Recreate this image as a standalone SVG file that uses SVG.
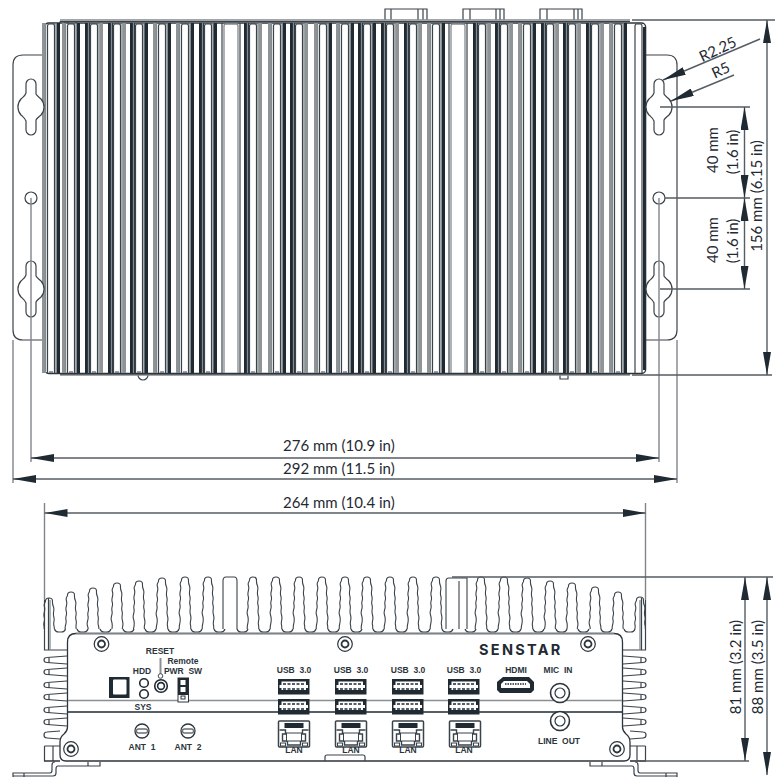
<svg xmlns="http://www.w3.org/2000/svg" width="778" height="777" viewBox="0 0 778 777">
<style>
.o{fill:none;stroke:#3a434a;stroke-width:1.2}
.g{fill:none;stroke:#858a8e;stroke-width:1.3}
.d{fill:#1f2a33}
.m{fill:#8f9497}
.e{fill:none;stroke:#80858a;stroke-width:1.4}
.l{fill:none;stroke:#555c62;stroke-width:1.4}
.t{font-family:"Lato","Liberation Sans",sans-serif;font-size:15px;fill:#1f2a33}
.s{font-family:"Liberation Sans",sans-serif;font-size:8.5px;font-weight:bold;fill:#2c353c;text-anchor:middle}
.p{fill:#fff;stroke:#1f2a33;stroke-width:1.6}
.fin{fill:#fff;stroke:#3a434a;stroke-width:1.1}
</style>
<defs>
<marker id="a" markerUnits="userSpaceOnUse" markerWidth="23" markerHeight="8" viewBox="0 0 23 8" refX="23" refY="4" orient="auto-start-reverse"><path d="M0,0L23,4L0,8z" fill="#1f2a33"/></marker>
<clipPath id="fc"><rect x="0" y="560" width="778" height="69"/></clipPath>
<g id="u"><path class="o" d="M-3.5,373V26Q-3.5,24 -1.5,24H1.500Q3.500,24 3.500,26V373M-2,372H2"/><path class="g" d="M-5.500,23V373M5,23V373"/></g>
<g id="L"><rect class="m" x="-9" y="23" width="3.500" height="350"/><rect class="d" x="5.500" y="23" width="3.500" height="350"/><use href="#u"/></g>
<g id="D"><rect class="d" x="-9" y="23" width="5" height="350"/><rect class="m" x="5.500" y="23" width="3.500" height="350"/><use href="#u"/></g>
<g id="B"><rect class="d" x="-9" y="23" width="5" height="350"/><rect class="d" x="5" y="23" width="4" height="350"/><use href="#u"/></g>
<g id="W"><path class="g" d="M-7,373V26Q-7,24 -5,24H5Q7,24 7,26V373"/><path class="o" d="M-9,23V373M9,23V373"/></g>
<path id="tf" class="fin" d="M-6,60C-4.500,56 -6.500,52 -5.500,48S-4,42 -5.500,38S-4,32 -5,28S-3.500,23 -4.800,19S-3.200,13 -4.500,9S-3.500,5 -3.500,3Q-3.500,0 0,0Q3.500,0 3.500,3S3.200,6 4.500,9S3.500,15 4.800,19S3.800,24 5,28S4,33 5.500,38S4.500,44 5.500,48S4.500,56 6,60"/>
<path id="v" class="o" d="M0,629Q1,632 4,632H7Q10,632 11,629"/>
<g id="sf"><path class="o" d="M67,-4L47,-2.500Q44,-2.500 44,0Q44,2.500 47,2.500L67,4M49,-2.500V2.500"/></g>
<g id="usb"><rect class="d" x="0" y="0" width="31.500" height="15.500"/><path d="M3.500,2.500H28V6H30V9H28V11H3.500V9H1.500V6H3.500z" fill="#fff"/><path d="M5,5H27M5,10H27" stroke="#1f2a33" stroke-width="1.400" stroke-dasharray="3 1.500"/></g>
<g id="lan"><rect x="0" y="0" width="31" height="26" rx="1" fill="#fff" stroke="#3a434a" stroke-width="1.500"/><rect class="d" x="6" y="2" width="19" height="5"/><path d="M1,9H7V13H4V20H9V24H22V20H27V13H24V9H30" fill="none" stroke="#3a434a" stroke-width="1.400"/><rect x="8" y="12" width="15" height="8" fill="#fff" stroke="#3a434a"/><rect x="2" y="22" width="5" height="3" fill="#fff" stroke="#3a434a"/><rect x="24" y="22" width="5" height="3" fill="#fff" stroke="#3a434a"/></g>
<g id="sc"><circle r="7.300" fill="#fff" stroke="#2c353c" stroke-width="1.200"/><circle r="3.500" fill="#fff" stroke="#2c353c" stroke-width="1.800"/></g>
<g id="ant"><circle r="7" fill="#fff" stroke="#2c353c" stroke-width="1.300"/><rect x="-5.500" y="-2" width="11" height="4" rx="2" fill="#fff" stroke="#6a7075" stroke-width="1.300"/></g>
<g id="jack"><circle r="9.500" fill="#fff" stroke="#2c353c" stroke-width="1.600"/><circle r="5" fill="#fff" stroke="#2c353c" stroke-width="1.200"/></g>
<path id="key" class="o" d="M-5,-14V-23A5,5 0 0 1 5,-23V-13C6,-11 8,-10 10,-8A12,12 0 0 1 10,8C8,10 6,11 5,13V23A5,5 0 0 1 -5,23V14C-6,11 -8,10 -10,8A12,12 0 0 1 -10,-8C-8,-10 -6,-11 -5,-14Z" style="fill:#fff"/>
</defs>

<g id="top-view">
<path class="o" d="M44,55H23Q13,55 13,65V330Q13,340 23,340H44M646,55H667Q677,55 677,65V330Q677,340 667,340H646"/>
<path class="o" d="M385,20V9H427V20M391,9V20M418,9V20M423,9V20M463,20V9H504V20M470,9V20M496,9V20M500,9V20M540,20V9H582V20M547,9V20M574,9V20M578,9V20"/>
<path class="o" d="M138,375A5,5 0 0 0 148,375M560,375V379H568V375"/>
<path class="g" d="M60,20H630M60,375H630"/><path class="o" d="M60,21.500H630M60,374H630M60,21.500V23M65,21.500V23M68,21.500V23M76,21.500V23"/>
<rect x="44.600" y="23" width="601" height="350.500" rx="4" fill="#fff" stroke="#2c353c" stroke-width="1.400"/>
<use href="#L" x="51"/>
<use href="#L" x="71"/><use href="#D" x="94"/><use href="#D" x="117"/><use href="#B" x="139"/><use href="#L" x="162"/><use href="#L" x="185"/><use href="#B" x="208"/><use href="#W" x="231"/><use href="#D" x="253"/><use href="#L" x="277"/><use href="#D" x="299"/><use href="#L" x="323"/><use href="#L" x="345"/><use href="#B" x="367"/><use href="#D" x="390"/><use href="#D" x="413"/><use href="#L" x="436"/><use href="#W" x="458"/><use href="#D" x="482"/><use href="#D" x="504"/><use href="#L" x="527"/><use href="#D" x="550"/><use href="#D" x="572"/><use href="#D" x="595"/><use href="#L" x="618"/>
<path class="o" d="M635,373V26Q635,24 637,24H640Q642,24 642,26V373"/><rect class="d" x="643" y="27" width="2.500" height="343"/>
</g>
<g id="keyholes">
<use href="#key" x="31" y="107"/><use href="#key" x="31" y="289"/><use href="#key" x="659" y="107"/><use href="#key" x="659" y="289"/>
<circle class="o" cx="31" cy="198" r="6" style="fill:#fff"/><circle class="o" cx="659" cy="198" r="6" style="fill:#fff"/>
</g>

<g id="front-view">
<path class="o" d="M13,777V773H50Q52,773 52,770V765Q52,762 55,762M100,762V766H58Q56,766 56,769V773Q56,776 53,776H13M24,773V777M88,762V766"/>
<path class="o" d="M677,777V773H640Q638,773 638,770V765Q638,762 635,762M590,762V766H632Q634,766 634,769V773Q634,776 637,776H677M666,773V777M602,762V766"/>
<g clip-path="url(#fc)">
<use href="#tf" x="49" y="598"/><use href="#tf" x="71" y="592"/><use href="#tf" x="93" y="588"/><use href="#tf" x="117" y="583"/><use href="#tf" x="139" y="581"/><use href="#tf" x="162" y="578"/><use href="#tf" x="185" y="577"/><use href="#tf" x="208" y="577"/>
<use href="#tf" x="253" y="577"/><use href="#tf" x="276" y="577"/><use href="#tf" x="299" y="577"/><use href="#tf" x="322" y="577"/><use href="#tf" x="345" y="577"/><use href="#tf" x="367" y="577"/><use href="#tf" x="390" y="577"/><use href="#tf" x="413" y="577"/><use href="#tf" x="436" y="577"/><use href="#tf" x="481" y="577"/><use href="#tf" x="504" y="577"/><use href="#tf" x="527" y="578"/><use href="#tf" x="550" y="581"/><use href="#tf" x="572" y="583"/><use href="#tf" x="595" y="587"/><use href="#tf" x="618" y="592"/><use href="#tf" x="640" y="597"/>
<path class="fin" d="M223,630V581Q223,577 226,577H234Q237,577 237,581V630M446,630V581Q446,578 449,578H467V630M459,630V581"/>
</g>
<g><use href="#v" x="54.500"/><use href="#v" x="77"/><use href="#v" x="100"/><use href="#v" x="123"/><use href="#v" x="145"/><use href="#v" x="168"/><use href="#v" x="191"/><use href="#v" x="214"/><use href="#v" x="237"/><use href="#v" x="259"/><use href="#v" x="282"/><use href="#v" x="305"/><use href="#v" x="328"/><use href="#v" x="351"/><use href="#v" x="373"/><use href="#v" x="396"/><use href="#v" x="419"/><use href="#v" x="442"/><use href="#v" x="465"/><use href="#v" x="487"/><use href="#v" x="510"/><use href="#v" x="533"/><use href="#v" x="556"/><use href="#v" x="578"/><use href="#v" x="601"/><use href="#v" x="624"/></g>
<g id="side-left">
<path class="o" d="M44.500,600V650H68M48.500,598V650"/><path class="g" d="M50,600V650"/>
<use href="#sf" y="660"/><use href="#sf" y="672"/><use href="#sf" y="685"/><use href="#sf" y="697"/><use href="#sf" y="710"/><use href="#sf" y="722"/><path class="o" d="M60,731L47,732Q44,732 44,735Q44,738 47,738L60,739M44.500,746V761M53,746V761M44.500,746H60"/>
</g>
<g id="side-right" transform="matrix(-1 0 0 1 690 0)">
<path class="o" d="M44.500,600V650H68M48.500,598V650"/><path class="g" d="M50,600V650"/>
<use href="#sf" y="660"/><use href="#sf" y="672"/><use href="#sf" y="685"/><use href="#sf" y="697"/><use href="#sf" y="710"/><use href="#sf" y="722"/><path class="o" d="M60,731L47,732Q44,732 44,735Q44,738 47,738L60,739M44.500,746V761M53,746V761M44.500,746H60"/>
</g>
<path d="M76,633.500H614Q622.500,633.500 622.500,642V727Q622.500,731 626,734Q630,737 630,742V755Q630,761 624,761H66Q60,761 60,755V742Q60,737 64,734Q67.500,731 67.500,727V642Q67.500,633.500 76,633.500Z" fill="#fff" stroke="#2c353c" stroke-width="1.300"/>
<path d="M76,633.500H614" stroke="#7f8488" stroke-width="1.600" fill="none"/>
<path d="M68,700.500H622" stroke="#8a8f93" stroke-width="1.400"/>
<path d="M68,712H622" stroke="#1f2a33" stroke-width="1.300"/>
<path d="M44,761H60M630,761H646" stroke="#2c353c" stroke-width="1.300"/>
<path class="o" d="M325,761V757Q325,755 327,755H363Q365,755 365,757V761"/>
<use href="#sc" x="101.500" y="644"/><use href="#sc" x="345" y="644"/><use href="#sc" x="588" y="644"/><use href="#sc" x="71" y="749"/><use href="#sc" x="617" y="749"/>
</g>
<g id="panel-left">
<rect x="109" y="677" width="20.500" height="21" fill="#1f2a33"/><rect x="113" y="679.500" width="13.500" height="15" rx="1" fill="#fff"/>
<circle class="p" cx="144" cy="683" r="4.300"/><circle class="p" cx="144" cy="694" r="4.300"/>
<path d="M160.500,658V674" stroke="#8a8f93" stroke-width="2"/><circle cx="160.500" cy="676" r="2.300" fill="#fff" stroke="#444c52"/>
<circle class="p" cx="161" cy="686" r="6.300"/><circle class="p" cx="161" cy="686" r="3.400"/>
<rect x="178" y="678" width="10.500" height="24" fill="#fff" stroke="#2c353c"/><rect class="d" x="178" y="678" width="10.500" height="17"/><rect x="180.500" y="680" width="5" height="5" fill="#fff"/><rect x="180.500" y="687" width="5" height="5" fill="#fff"/><rect x="181" y="696" width="4" height="3" fill="#fff" stroke="#2c353c"/>
<use href="#ant" x="142" y="731"/><use href="#ant" x="188" y="731"/>
<text class="s" x="160" y="654">RESET</text><text class="s" x="183" y="664">Remote</text><text class="s" x="183" y="674" xml:space="preserve">PWR  SW</text><text class="s" x="142" y="674">HDD</text><text class="s" x="143" y="710">SYS</text><text class="s" x="142" y="750" xml:space="preserve">ANT  1</text><text class="s" x="188" y="750" xml:space="preserve">ANT  2</text>
</g>
<g id="panel-ports">
<use href="#usb" x="278" y="679"/><use href="#usb" x="278" y="699"/><use href="#lan" x="278.500" y="721"/>
<use href="#usb" x="335" y="679"/><use href="#usb" x="335" y="699"/><use href="#lan" x="335.500" y="721"/>
<use href="#usb" x="392" y="679"/><use href="#usb" x="392" y="699"/><use href="#lan" x="392.500" y="721"/>
<use href="#usb" x="448" y="679"/><use href="#usb" x="448" y="699"/><use href="#lan" x="449.500" y="721"/>
<text class="s" x="294" y="673" xml:space="preserve">USB  3.0</text><text class="s" x="351" y="673" xml:space="preserve">USB  3.0</text><text class="s" x="408" y="673" xml:space="preserve">USB  3.0</text><text class="s" x="464" y="673" xml:space="preserve">USB  3.0</text>
<text class="s" x="294" y="753">LAN</text><text class="s" x="351" y="753">LAN</text><text class="s" x="408" y="753">LAN</text><text class="s" x="464" y="753">LAN</text>
<path d="M503,677H529L534,682V690L531,693H500L497,690V682Z" fill="#1f2a33"/><path d="M504,681H527L530,684V688H501V684Z" fill="#fff"/><path d="M505,684H526" stroke="#1f2a33" stroke-width="1.300" stroke-dasharray="1.500 1"/>
<use href="#jack" x="560" y="693"/><use href="#jack" x="560" y="721"/>
<text class="s" x="516" y="673">HDMI</text><text class="s" x="558" y="673" xml:space="preserve">MIC  IN</text><text class="s" x="559" y="744" xml:space="preserve">LINE  OUT</text>
<text x="479" y="655" style="font-family:'Inter','Liberation Sans',sans-serif;font-size:14.500px;font-weight:700;letter-spacing:2.300px;fill:#1f2a33">SENSTAR</text>
</g>
<g id="connectors">
<path class="e" d="M31,198V462M659,198V462M13,340V483M677,340V483M44.500,503V600M645.500,503V600"/>
<path class="l" d="M632,20H775M632,375H772M660,107H750M665,198H750M660,289H750M452,577H773M630,761H749"/>
<path class="l" marker-start="url(#a)" marker-end="url(#a)" d="M31,458H659"/>
<path class="l" marker-start="url(#a)" marker-end="url(#a)" d="M13,479H677"/>
<path class="l" marker-start="url(#a)" marker-end="url(#a)" d="M44.500,513H645.500"/>
<path class="l" marker-start="url(#a)" marker-end="url(#a)" d="M744.500,107V198"/>
<path class="l" marker-start="url(#a)" marker-end="url(#a)" d="M744.500,198V289"/>
<path class="l" marker-start="url(#a)" marker-end="url(#a)" d="M767,20V375"/>
<path class="l" marker-start="url(#a)" marker-end="url(#a)" d="M745,577V761"/>
<path class="l" marker-start="url(#a)" marker-end="url(#a)" d="M767,577V775"/>
<path class="l" marker-end="url(#a)" d="M760,39L663,80"/>
<path class="l" marker-end="url(#a)" d="M734,75L671,101"/>
</g>
<g id="labels">
<text class="t" x="283" y="451">276 mm (10.9 in)</text>
<text class="t" x="283" y="474">292 mm (11.5 in)</text>
<text class="t" x="283" y="508">264 mm (10.4 in)</text>
<text class="t" text-anchor="middle" transform="translate(720,54) rotate(-25)">R2.25</text>
<text class="t" text-anchor="middle" transform="translate(723,75) rotate(-25)">R5</text>
<text class="t" text-anchor="middle" transform="translate(718,150) rotate(-90)">40 mm</text>
<text class="t" text-anchor="middle" transform="translate(738,152) rotate(-90)">(1.6 in)</text>
<text class="t" text-anchor="middle" transform="translate(718,240) rotate(-90)">40 mm</text>
<text class="t" text-anchor="middle" transform="translate(738,241) rotate(-90)">(1.6 in)</text>
<text class="t" text-anchor="middle" transform="translate(762,196) rotate(-90)">156 mm (6.15 in)</text>
<text class="t" text-anchor="middle" transform="translate(741,667) rotate(-90)">81 mm (3.2 in)</text>
<text class="t" text-anchor="middle" transform="translate(763,667) rotate(-90)">88 mm (3.5 in)</text>
</g>
</svg>
